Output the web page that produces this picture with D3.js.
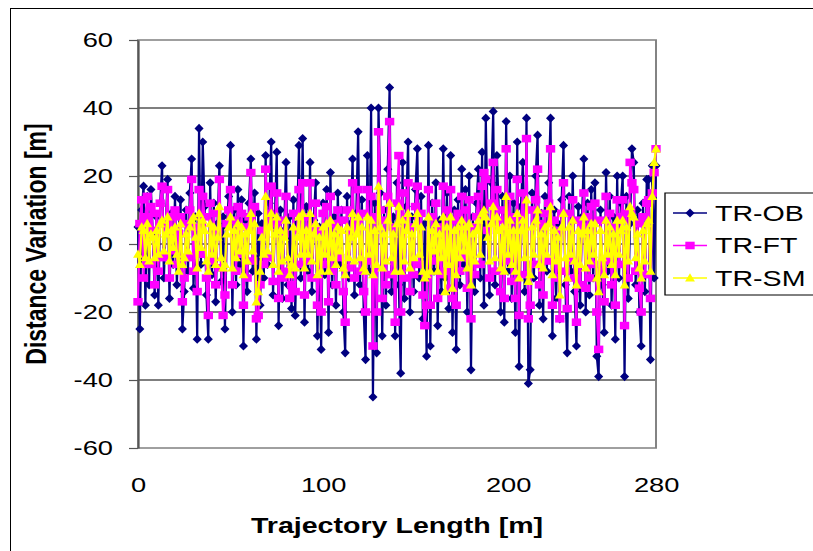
<!DOCTYPE html>
<html>
<head>
<meta charset="utf-8">
<script src="https://cdn.jsdelivr.net/npm/d3@7"></script>
<style>
  html, body { margin: 0; padding: 0; background: #fff; }
  svg { display: block; }
</style>
</head>
<body>
<div id="chart"></div>
<script>
// Values, one per metre (0..280)
const trOB = [
  5, -25, 10, 17, -18, 14, -12, 16, 3, -15,
  8, -18, 12, 23, -10, 6, 19, -16, 9, -6,
  14, -12, 4, 13, -25, -14, 10, -8, 15, 25,
  -13, 8, -28, 34, -6, 30, 11, -15, -28, 18,
  -9, 12, -17, 6, 23, -11, 8, -25, 5, 14,
  29, -20, 10, -12, 16, -6, 13, -30, 7, -14,
  12, 25, -8, 15, -28, 9, -18, 6, -10, 26,
  -6, 12, 30, -15, 8, 27, -24, 10, -16, 4,
  24, -12, 8, -19, 13, -21, 6, 29, -10, 31,
  -23, 11, -8, 24, -14, 7, 18, -27, 5, -31,
  12, -9, 16, -26, 21, -12, 8, -18, 15, -6,
  10, -20, -32, 14, -10, 6, 25, -15, 9, 33,
  -12, 13, -20, -34, 26, -8, 40, -45, 12, -32,
  40, 15, -27, 10, -18, 22, 46, -14, 8, -27,
  18, -12, -38, 24, -16, 11, 30, -20, 8, -14,
  16, 28, -10, 14, -22, 6, -33, 29, -30, 12,
  -8, 18, -24, 7, -14, 28, -10, 15, -19, 26,
  -26, 10, -31, 13, -12, 22, -6, 16, -20, 20,
  -37, 8, -14, 12, 22, -10, 27, -18, 37, 6,
  -15, 18, 39, -12, 26, 10, -20, 14, -23, 36,
  -8, 20, -16, 12, -26, 30, -36, 11, 24, -14,
  37, -41, -37, 15, -10, 20, 32, -18, 9, -22,
  14, -8, 18, 37, -27, 10, -16, 6, -22, 13,
  29, -12, -32, 14, -8, 20, -14, -30, 11, -18,
  8, 25, -20, 12, -15, 16, -10, 18, -33, -39,
  10, -12, -26, 21, -8, 14, -18, 8, -28, 20,
  -10, 12, 20, -39, 14, -16, 6, 28, 24, -12,
  10, -20, -30, 12, -14, 19, 19, -34, 23, -10,
  23
];

const trFT = [
  -17, 6, 13, -10, 8, 14, -6, 11, 4, -12,
  9, -8, 12, 17, -4, 6, 16, -10, 8, -2,
  10, -6, 3, 8, -17, -10, 6, -4, 10, 19,
  -8, 5, -14, 16, -3, 14, 8, -10, -21, 12,
  -5, 9, -12, 4, 19, -7, -21, -15, 6, 10,
  16, -12, 7, -8, 11, -3, 9, -18, 5, -10,
  8, 21, -5, 11, -22, -21, -12, 4, -6, 22,
  -4, 9, 17, -11, 6, 15, -16, 7, -10, 3,
  14, -8, -16, -12, 9, -14, 4, 16, -6, 18,
  -15, 8, -5, 18, -10, 5, 12, -18, 4, -20,
  9, -6, 11, -17, 14, -8, 6, -12, 10, -4,
  7, -14, -23, 10, -7, 4, 18, -10, 6, 16,
  -8, 9, -14, -20, 16, -5, 14, -30, 8, -20,
  33, 10, -16, 7, -12, 14, 36, -9, 5, -23,
  12, 26, -20, 15, -10, 8, 18, -14, 5, -9,
  11, 17, -6, 9, -15, -24, -18, 16, -18, 8,
  -5, 12, -16, 5, -9, 17, -8, 10, -13, 16,
  -16, 7, -18, 9, -8, 14, -4, 10, -13, 13,
  -22, 5, -9, 8, 14, -6, 17, 21, 19, 4,
  -10, 12, 24, -8, 16, 7, -14, 10, -16, 28,
  -5, 14, -11, 8, -16, 19, -21, 7, 15, -9,
  31, -22, -18, 10, -6, 13, 22, -12, 6, -15,
  9, -5, 12, 28, -18, 7, -10, 4, -22, 9,
  18, -8, -19, 9, -5, 13, -10, -23, 7, -12,
  5, 15, -13, 8, -10, 11, -6, 12, -20, -31,
  7, -8, -17, 14, -5, 9, -12, 5, -18, 13,
  -6, 8, 13, -24, 9, -10, 24, 18, 16, -8,
  6, -13, -20, 8, -9, 12, 13, -16, 15, 21,
  28
];

const trSM = [
  -3, -6, 5, 4, -4, 6, -5, 3, 2, -4,
  4, -3, 6, 7, -2, 3, 8, -5, 4, -1,
  5, -3, -8, 6, -6, -4, 3, -2, 5, 7,
  8, 2, -7, 9, -1, 7, 4, -5, -8, 6,
  -3, 5, -6, 2, 11, -4, -7, -6, 3, 5,
  8, -7, 4, -4, 6, -2, 5, -9, 3, -5,
  4, 9, -2, 6, -17, -14, -8, 2, -3, 14,
  -2, 5, 9, -6, 3, 8, -8, 4, -5, 2,
  7, -4, -9, -6, 5, -7, 2, 8, -3, 9,
  -7, 4, -3, 9, -5, 3, 6, -9, 2, -8,
  5, -3, 6, -8, 7, -4, 3, -6, 5, -2,
  4, -7, -9, 5, -4, 2, 9, -5, 3, 8,
  -4, 5, -7, -8, 8, -3, 7, -9, 4, -6,
  17, 5, -7, 3, -5, 7, 12, -4, 3, -8,
  6, 11, -8, 7, -5, 4, 9, -7, 3, -4,
  6, 9, -3, 5, -8, -10, -9, 8, -8, 4,
  -2, 6, -8, 3, -4, 8, -14, 5, -6, 8,
  -13, 4, -9, 5, -4, 7, -2, 5, -7, 6,
  -12, 3, -5, 4, 7, -3, 9, 10, 8, 2,
  -5, 6, 11, -4, 8, 4, -7, 5, -8, 14,
  -3, 7, -6, 4, -8, 9, -10, 4, 7, -4,
  13, -11, -9, 5, -3, 7, 10, -6, 3, -7,
  5, -3, 6, 11, -9, 4, -5, 2, -15, 5,
  9, -4, -10, 5, -3, 7, -5, -12, 4, -6,
  3, 8, -7, 4, -5, 6, -3, 6, -10, -14,
  4, -4, -9, 7, -3, 5, -6, 3, -9, 7,
  -3, 4, 7, -12, 5, -5, 11, 9, 8, -4,
  3, -7, -10, 4, -5, 6, 7, -8, 14, 24,
  28
];

const seriesNames = ["TR-OB", "TR-FT", "TR-SM"];
const seriesColors = ["#000080", "#FF00FF", "#FFFF00"];
const seriesShapes = ["diamond", "square", "triangle"];
const yTicks = [-60, -40, -20, 0, 20, 40, 60];
const xTicks = [0, 100, 200, 280];

const width = 813;
const height = 551;
// the original picture is stretched sideways, everything is drawn narrow and scaled
const stretch = 1.3;
const sx = px => px / stretch;
const plot = { left: 138, right: 656, top: 40, bottom: 448 };
const fontFamily = "Arial, 'Liberation Sans', sans-serif";

// marker shapes, in unstretched units
const shapes = {
  diamond: "M0,-4.6L3.5,0L0,4.6L-3.5,0Z",
  square: "M-3.6,-3.8L3.6,-3.8L3.6,3.8L-3.6,3.8Z",
  triangle: "M0,-4.8L3.8,3.6L-3.8,3.6Z"
};

function setupChart() {
  const svg = d3.select("#chart")
    .append("svg")
    .attr("width", width)
    .attr("height", height);

  // chart frame (runs past the right and bottom edge)
  svg.append("rect")
    .attr("x", 10.5)
    .attr("y", 8.5)
    .attr("width", 900)
    .attr("height", 700)
    .attr("fill", "none")
    .attr("stroke", "#000")
    .attr("stroke-width", 1);

  const g = svg.append("g")
    .attr("transform", `scale(${stretch},1)`)
    .style("font-family", fontFamily);

  const x = d3.scaleLinear()
    .domain([0, 280])
    .range([sx(plot.left), sx(plot.right)]);

  const y = d3.scaleLinear()
    .domain([-60, 60])
    .range([plot.bottom, plot.top]);

  // Gridlines
  g.append("g")
    .selectAll("line")
    .data(yTicks.filter(t => t > -60 && t < 60))
    .join("line")
    .attr("x1", x(0))
    .attr("x2", x(280))
    .attr("y1", d => y(d))
    .attr("y2", d => y(d))
    .attr("stroke", "#000")
    .attr("stroke-width", 1);

  // Plot area border
  g.append("rect")
    .attr("x", x(0))
    .attr("y", y(60))
    .attr("width", x(280) - x(0))
    .attr("height", y(-60) - y(60))
    .attr("fill", "none")
    .attr("stroke", "#808080")
    .attr("stroke-width", 1.5);

  // Y axis
  const yAxis = g.append("g")
    .attr("transform", `translate(${x(0)},0)`)
    .call(d3.axisLeft(y).tickValues(yTicks).tickSizeInner(sx(9)).tickSizeOuter(0).tickPadding(sx(16)).tickFormat(d => String(d)));
  yAxis.select(".domain").attr("stroke", "#555").attr("stroke-width", 1.5);
  yAxis.selectAll(".tick line").attr("stroke", "#555").attr("stroke-width", 1.2);
  yAxis.selectAll("text")
    .attr("font-family", fontFamily)
    .attr("font-size", 21)
    .attr("fill", "#000");

  // X axis labels only
  const xAxis = g.append("g")
    .attr("transform", `translate(0,${plot.bottom})`)
    .call(d3.axisBottom(x).tickValues(xTicks).tickSize(0).tickPadding(29).tickFormat(d => String(d)));
  xAxis.select(".domain").remove();
  xAxis.selectAll("text")
    .attr("font-family", fontFamily)
    .attr("font-size", 21)
    .attr("fill", "#000");

  // Axis titles
  g.append("text")
    .attr("x", sx(397))
    .attr("y", 533)
    .attr("text-anchor", "middle")
    .attr("font-size", 22)
    .attr("font-weight", "bold")
    .text("Trajectory Length [m]");

  g.append("text")
    .attr("transform", `translate(${sx(46)},${244}) rotate(-90)`)
    .attr("text-anchor", "middle")
    .attr("font-size", 23)
    .attr("font-weight", "bold")
    .text("Distance Variation [m]");

  // Series: line first, then markers
  const seriesData = [trOB, trFT, trSM];
  const line = d3.line()
    .x((d, i) => x(i))
    .y(d => y(d));

  seriesData.forEach((values, s) => {
    const sg = g.append("g").attr("class", "series");
    sg.append("path")
      .datum(values)
      .attr("d", line)
      .attr("fill", "none")
      .attr("stroke", seriesColors[s])
      .attr("stroke-width", 1.7)
      .attr("stroke-linejoin", "round");
    sg.selectAll(".marker")
      .data(values)
      .join("path")
      .attr("class", "marker")
      .attr("transform", (d, i) => `translate(${x(i)},${y(d)})`)
      .attr("d", shapes[seriesShapes[s]])
      .attr("fill", seriesColors[s]);
  });

  drawLegend(g);
}

function drawLegend(g) {
  const legend = g.append("g");
  legend.append("rect")
    .attr("x", sx(665))
    .attr("y", 193)
    .attr("width", sx(300))
    .attr("height", 102)
    .attr("fill", "#fff")
    .attr("stroke", "#000")
    .attr("stroke-width", 1);

  const rows = legend.selectAll(".row")
    .data(seriesNames)
    .join("g")
    .attr("class", "row")
    .attr("transform", (d, i) => `translate(0,${213 + i * 32.5})`);

  rows.append("line")
    .attr("x1", sx(673))
    .attr("x2", sx(707))
    .attr("stroke", (d, i) => seriesColors[i])
    .attr("stroke-width", 1.5);
  rows.append("path")
    .attr("transform", `translate(${sx(690)},0)`)
    .attr("d", (d, i) => shapes[seriesShapes[i]])
    .attr("fill", (d, i) => seriesColors[i]);
  rows.append("text")
    .attr("x", sx(715))
    .attr("y", 7.5)
    .attr("font-size", 22)
    .attr("fill", "#000")
    .text(d => d);
}

setupChart();
</script>
</body>
</html>
